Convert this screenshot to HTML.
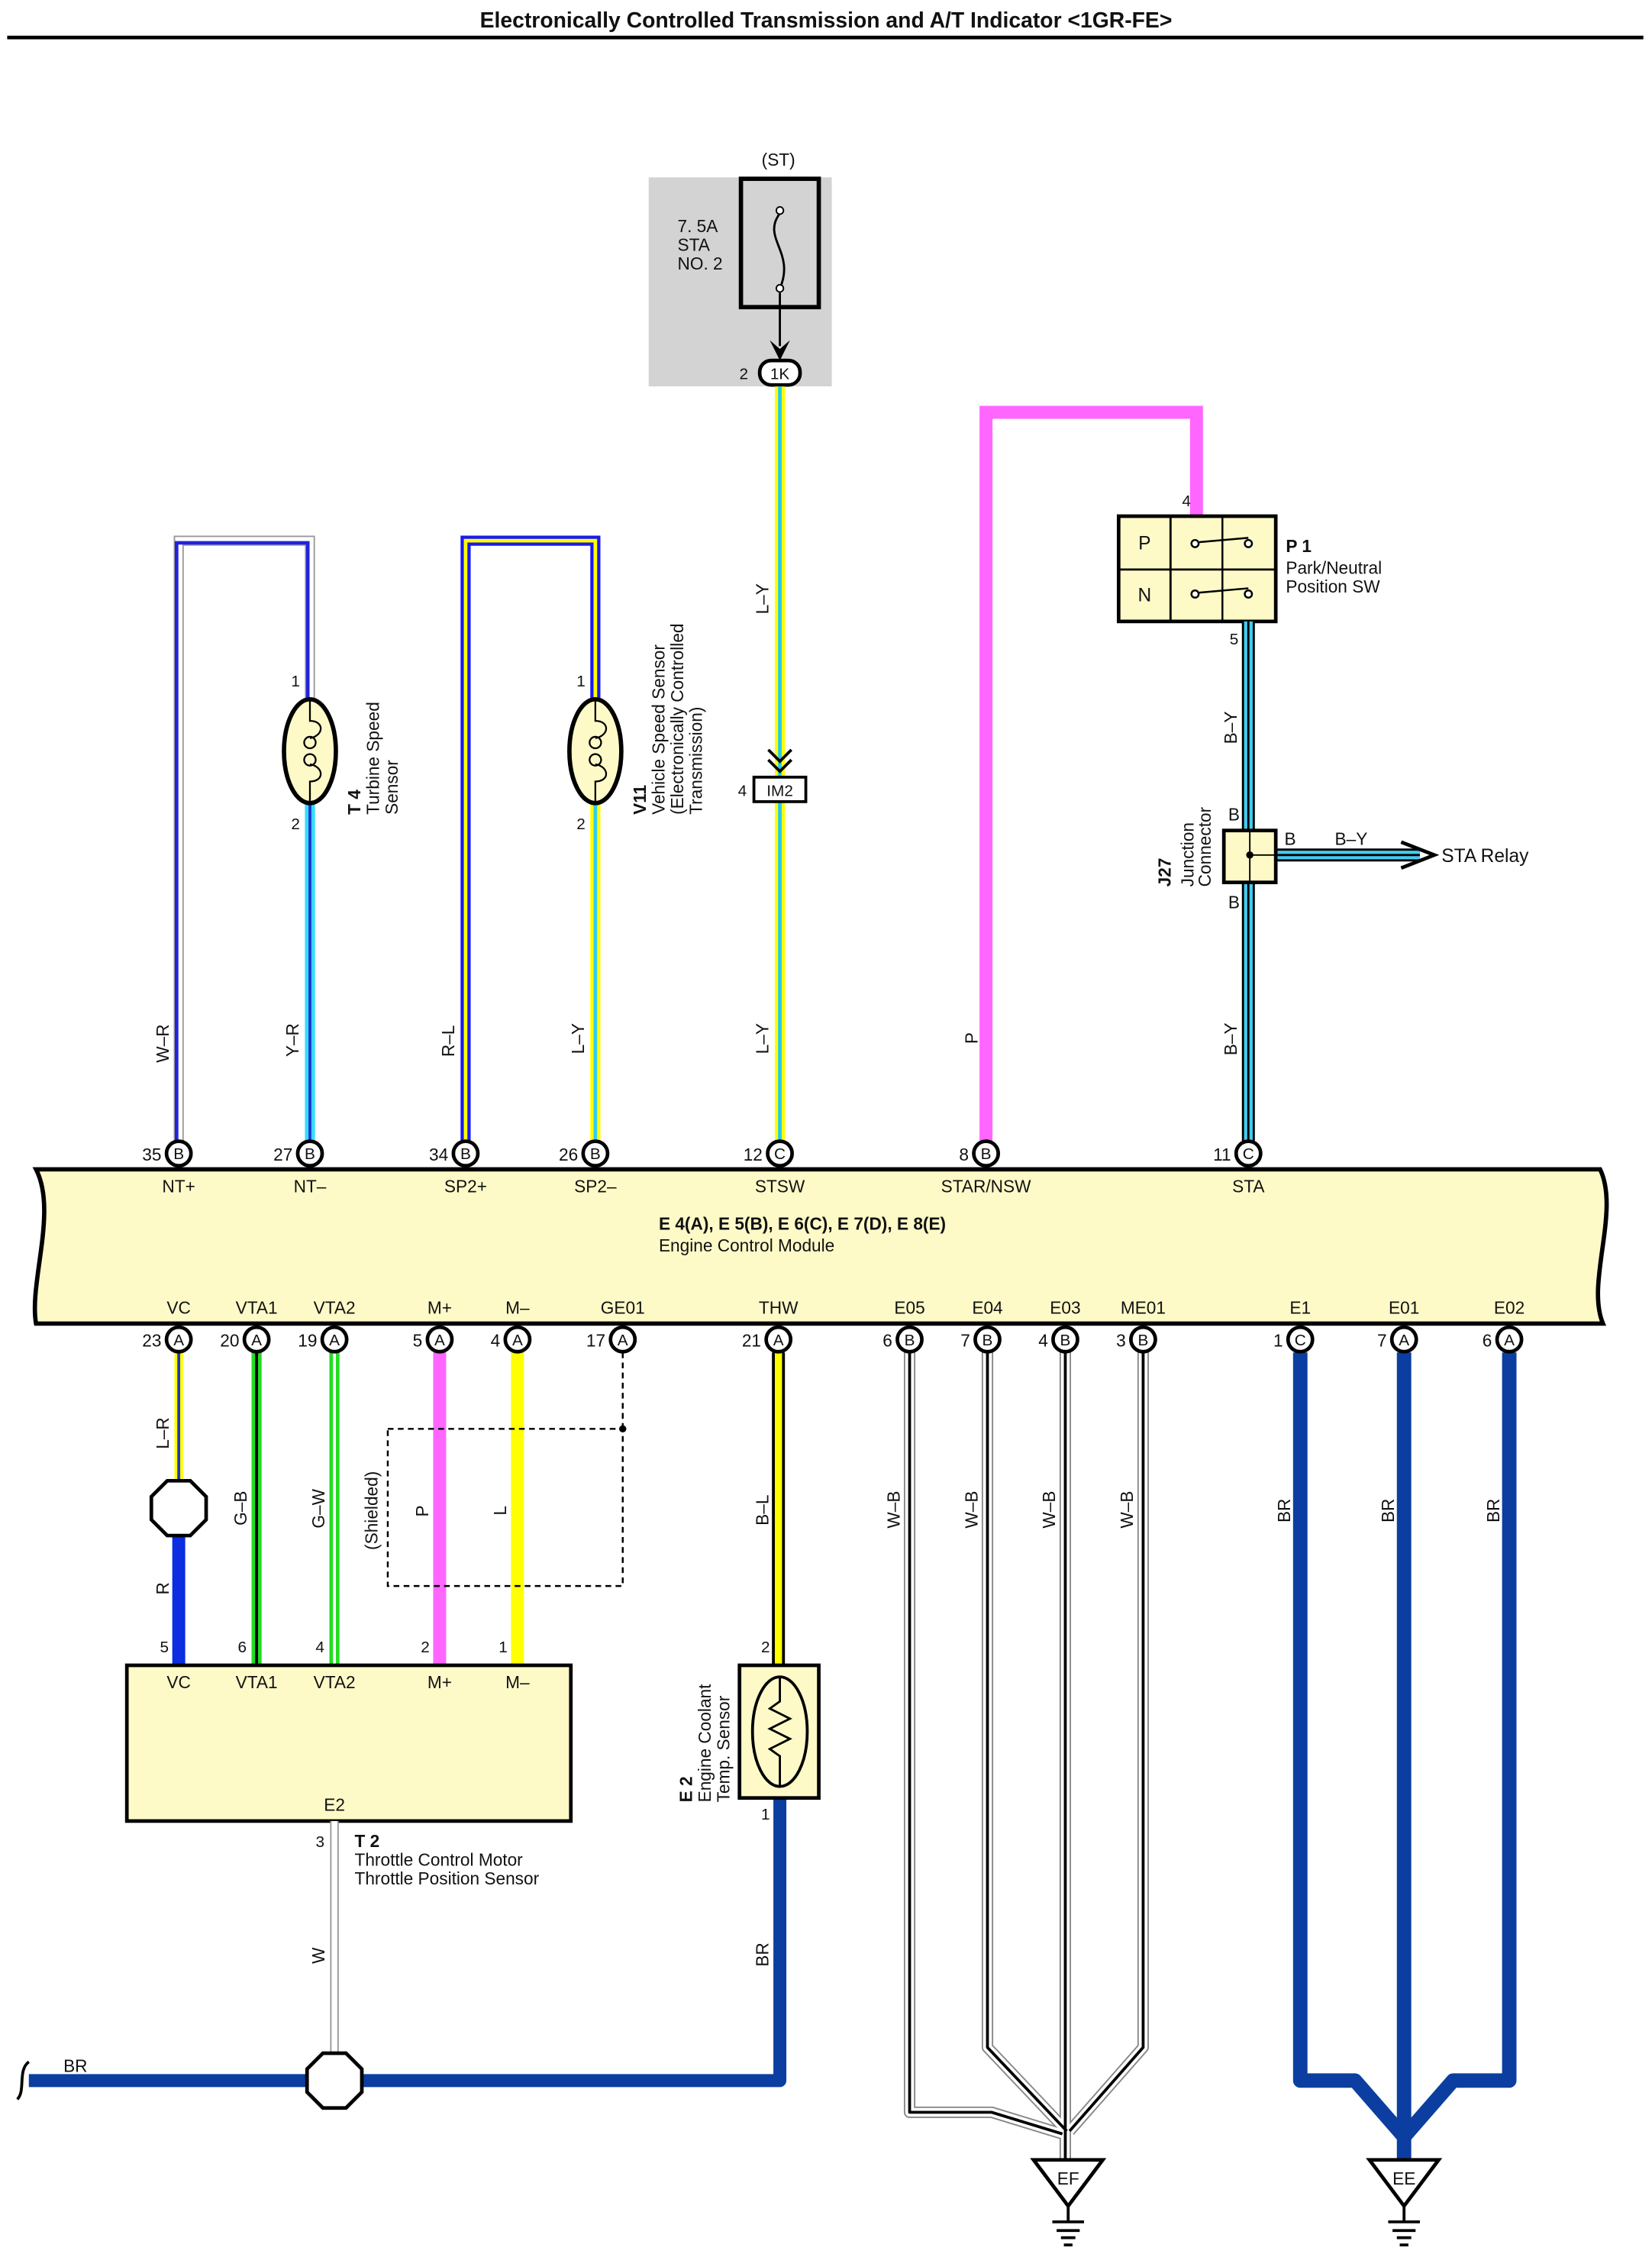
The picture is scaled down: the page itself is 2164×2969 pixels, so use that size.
<!DOCTYPE html>
<html><head><meta charset="utf-8"><style>html,body{margin:0;padding:0;background:#fff}svg{display:block}text{font-family:"Liberation Sans",sans-serif;fill:#111}</style></head><body>
<svg width="2164" height="2969" viewBox="0 0 1146 1572.3" preserveAspectRatio="none" xmlns="http://www.w3.org/2000/svg">
<text x="573" y="19" font-size="15" font-weight="bold" text-anchor="middle">Electronically Controlled Transmission and A/T Indicator &lt;1GR-FE&gt;</text>
<line x1="5" y1="26" x2="1140" y2="26" stroke="#000" stroke-width="2.5"/>

<!-- Fuse -->
<rect x="450" y="123" width="127" height="145" fill="#d3d3d3"/>
<text x="540" y="115" font-size="12" text-anchor="middle">(ST)</text>
<rect x="514" y="124" width="54" height="89" fill="none" stroke="#000" stroke-width="3"/>
<path d="M541 148 C528 165,552 175,541 200" fill="none" stroke="#000" stroke-width="1.5"/>
<circle cx="541" cy="146" r="2.5" fill="#fff" stroke="#000"/><circle cx="541" cy="200" r="2.5" fill="#fff" stroke="#000"/>
<text x="470" y="161" font-size="12">7. 5A</text><text x="470" y="174" font-size="12">STA</text><text x="470" y="187" font-size="12">NO. 2</text>
<line x1="541" y1="203" x2="541" y2="240" stroke="#000" stroke-width="1.5"/>
<path d="M534 236 L541 250 L548 236 L541 242 Z" fill="#000"/>
<rect x="527" y="250" width="28" height="17" rx="8" fill="#fff" stroke="#000" stroke-width="2.5"/>
<text x="541" y="263" font-size="11" text-anchor="middle">1K</text><text x="519" y="263" font-size="11" text-anchor="end">2</text>

<!-- STSW wire -->
<line x1="541" y1="268" x2="541" y2="792" stroke="#ffff00" stroke-width="7"/>
<line x1="541" y1="268" x2="541" y2="792" stroke="#22ccee" stroke-width="2.5"/>
<path d="M533 520 L541 528 L549 520 M533 527 L541 535 L549 527" fill="none" stroke="#000" stroke-width="2"/>
<rect x="523" y="539" width="36" height="17" fill="#fff" stroke="#000" stroke-width="2"/>
<text x="541" y="552" font-size="11" text-anchor="middle">IM2</text><text x="518" y="552" font-size="11" text-anchor="end">4</text>

<!-- P wire -->
<path d="M684 792 L684 286 L830 286 L830 358" fill="none" stroke="#ff66ff" stroke-width="9"/>
<text x="820" y="351" font-size="11">4</text>
<rect x="776" y="358" width="109" height="73" fill="#fdfac8" stroke="#000" stroke-width="2.5"/>
<line x1="812" y1="358" x2="812" y2="431" stroke="#000" stroke-width="1.5"/>
<line x1="776" y1="395" x2="885" y2="395" stroke="#000" stroke-width="1.5"/>
<text x="794" y="381" font-size="13" text-anchor="middle">P</text><text x="794" y="417" font-size="13" text-anchor="middle">N</text>
<g fill="#fff" stroke="#000" stroke-width="1.3"><circle cx="829" cy="377" r="2.5"/><circle cx="866" cy="377" r="2.5"/><circle cx="829" cy="412" r="2.5"/><circle cx="866" cy="412" r="2.5"/></g>
<path d="M832 376 L866 373 M832 411 L866 408 M848 358 L848 431" stroke="#000" stroke-width="1.3" fill="none"/>
<text x="892" y="383" font-size="12" font-weight="bold">P 1</text>
<text x="892" y="398" font-size="12">Park/Neutral</text><text x="892" y="411" font-size="12">Position SW</text>
<text x="853" y="447" font-size="11">5</text>

<!-- B-Y -->
<g fill="none">
<line x1="866" y1="431" x2="866" y2="792" stroke="#000" stroke-width="9"/>
<line x1="866" y1="431" x2="866" y2="792" stroke="#44ccf0" stroke-width="6"/>
<line x1="866" y1="431" x2="866" y2="792" stroke="#000" stroke-width="1.5"/>
<line x1="885" y1="593" x2="985" y2="593" stroke="#000" stroke-width="9"/>
<line x1="885" y1="593" x2="985" y2="593" stroke="#44ccf0" stroke-width="6"/>
<line x1="885" y1="593" x2="985" y2="593" stroke="#000" stroke-width="1.5"/>
</g>
<path d="M972 584 L995 593 L972 602" fill="none" stroke="#000" stroke-width="2.5"/>
<rect x="849" y="576" width="36" height="36" fill="#fdfac8" stroke="#000" stroke-width="2.5"/>
<line x1="867" y1="576" x2="867" y2="612" stroke="#000"/><line x1="867" y1="593" x2="885" y2="593" stroke="#000"/><circle cx="867" cy="593" r="2.5" fill="#000"/>
<text x="852" y="569" font-size="12">B</text><text x="891" y="586" font-size="12">B</text><text x="852" y="630" font-size="12">B</text>
<text x="926" y="586" font-size="12">B–Y</text><text x="1000" y="598" font-size="13">STA Relay</text>
<text transform="translate(812,615) rotate(-90)" font-size="12" font-weight="bold">J27</text>
<text transform="translate(828,615) rotate(-90)" font-size="12">Junction</text>
<text transform="translate(840,615) rotate(-90)" font-size="12">Connector</text>

<!-- NT wires -->
<path d="M124 792 L124 375 L215 375 L215 487" fill="none" stroke="#999" stroke-width="7"/>
<path d="M124 792 L124 375 L215 375 L215 487" fill="none" stroke="#fff" stroke-width="5"/>
<path d="M124 792 L124 375 L215 375 L215 487" fill="none" stroke="#2222dd" stroke-width="2.5" transform="translate(-1.5,1.5)"/>
<line x1="215" y1="556" x2="215" y2="792" stroke="#33ddff" stroke-width="7"/>
<line x1="215" y1="556" x2="215" y2="792" stroke="#2233cc" stroke-width="2"/>
<ellipse cx="215" cy="521" rx="18" ry="36" fill="#fdfac8" stroke="#000" stroke-width="3"/>
<path d="M215 485 L215 500 C225 500,225 510,215 512 M211 515 a4 4 0 1 1 8 0 a4 4 0 1 1 -8 0 M211 527 a4 4 0 1 1 8 0 a4 4 0 1 1 -8 0 M215 530 C225 532,225 542,215 542 L215 557" fill="none" stroke="#000" stroke-width="1.2"/>
<text x="202" y="476" font-size="11">1</text><text x="202" y="575" font-size="11">2</text>
<text transform="translate(250,565) rotate(-90)" font-size="12" font-weight="bold">T 4</text>
<text transform="translate(263,565) rotate(-90)" font-size="12">Turbine Speed</text>
<text transform="translate(276,565) rotate(-90)" font-size="12">Sensor</text>

<!-- SP wires -->
<path d="M323 792 L323 375 L413 375 L413 487" fill="none" stroke="#1a1aee" stroke-width="7"/>
<path d="M323 792 L323 375 L413 375 L413 487" fill="none" stroke="#ffff00" stroke-width="2.5"/>
<line x1="413" y1="556" x2="413" y2="792" stroke="#ffff00" stroke-width="7"/>
<line x1="413" y1="556" x2="413" y2="792" stroke="#33ccee" stroke-width="2.5"/>
<ellipse cx="413" cy="521" rx="18" ry="36" fill="#fdfac8" stroke="#000" stroke-width="3"/>
<path d="M413 485 L413 500 C423 500,423 510,413 512 M409 515 a4 4 0 1 1 8 0 a4 4 0 1 1 -8 0 M409 527 a4 4 0 1 1 8 0 a4 4 0 1 1 -8 0 M413 530 C423 532,423 542,413 542 L413 557" fill="none" stroke="#000" stroke-width="1.2"/>
<text x="400" y="476" font-size="11">1</text><text x="400" y="575" font-size="11">2</text>
<text transform="translate(448,565) rotate(-90)" font-size="12" font-weight="bold">V11</text>
<text transform="translate(461,565) rotate(-90)" font-size="12">Vehicle Speed Sensor</text>
<text transform="translate(474,565) rotate(-90)" font-size="12">(Electronically Controlled</text>
<text transform="translate(487,565) rotate(-90)" font-size="12">Transmission)</text>

<!-- wire labels top -->
<g font-size="12">
<text transform="translate(117,737) rotate(-90)">W–R</text>
<text transform="translate(207,733) rotate(-90)">Y–R</text>
<text transform="translate(315,733) rotate(-90)">R–L</text>
<text transform="translate(405,731) rotate(-90)">L–Y</text>
<text transform="translate(533,731) rotate(-90)">L–Y</text>
<text transform="translate(533,426) rotate(-90)">L–Y</text>
<text transform="translate(678,724) rotate(-90)">P</text>
<text transform="translate(858,732) rotate(-90)">B–Y</text>
<text transform="translate(858,516) rotate(-90)">B–Y</text>
</g>

<!-- ECM -->
<path d="M25 811 L1110 811 C1124 840,1100 890,1112 918 L25 918 C20 890,40 840,25 811 Z" fill="#fdfac8" stroke="#000" stroke-width="3"/>
<text x="457" y="853" font-size="12" font-weight="bold">E 4(A), E 5(B), E 6(C), E 7(D), E 8(E)</text>
<text x="457" y="868" font-size="12">Engine Control Module</text>
<g font-size="12" text-anchor="middle">
<text x="124" y="827">NT+</text><text x="215" y="827">NT–</text><text x="323" y="827">SP2+</text><text x="413" y="827">SP2–</text><text x="541" y="827">STSW</text><text x="684" y="827">STAR/NSW</text><text x="866" y="827">STA</text>
<text x="124" y="911">VC</text><text x="178" y="911">VTA1</text><text x="232" y="911">VTA2</text><text x="305" y="911">M+</text><text x="359" y="911">M–</text><text x="432" y="911">GE01</text><text x="540" y="911">THW</text><text x="631" y="911">E05</text><text x="685" y="911">E04</text><text x="739" y="911">E03</text><text x="793" y="911">ME01</text><text x="902" y="911">E1</text><text x="974" y="911">E01</text><text x="1047" y="911">E02</text>
</g>

<!-- bottom wires -->
<line x1="124" y1="938" x2="124" y2="1028" stroke="#ffff00" stroke-width="6"/><line x1="124" y1="938" x2="124" y2="1028" stroke="#2233cc" stroke-width="2"/>
<line x1="124" y1="1064" x2="124" y2="1155" stroke="#0a2ee0" stroke-width="9"/>
<polygon points="116,1027 132,1027 143,1038 143,1054 132,1065 116,1065 105,1054 105,1038" fill="#fff" stroke="#000" stroke-width="2.5"/>
<line x1="178" y1="938" x2="178" y2="1155" stroke="#22dd22" stroke-width="7"/><line x1="178" y1="938" x2="178" y2="1155" stroke="#000" stroke-width="2"/>
<line x1="232" y1="938" x2="232" y2="1155" stroke="#22dd22" stroke-width="7"/><line x1="232" y1="938" x2="232" y2="1155" stroke="#fff" stroke-width="2"/>
<line x1="305" y1="938" x2="305" y2="1155" stroke="#ff66ff" stroke-width="9"/>
<line x1="359" y1="938" x2="359" y2="1155" stroke="#ffff00" stroke-width="9"/>
<path d="M432 938 L432 991" stroke="#000" stroke-width="1.3" stroke-dasharray="4,3"/>
<rect x="269" y="991" width="163" height="109" fill="none" stroke="#000" stroke-width="1.3" stroke-dasharray="4,3"/>
<circle cx="432" cy="991" r="2.5" fill="#000"/>
<line x1="540" y1="938" x2="540" y2="1155" stroke="#000" stroke-width="9"/><line x1="540" y1="938" x2="540" y2="1155" stroke="#ffff00" stroke-width="5"/>

<!-- W-B wires -->
<g fill="none" stroke-linejoin="round">
<g stroke="#888" stroke-width="8">
<path d="M631 938 L631 1465 L688 1465 L737 1480"/><path d="M685 938 L685 1420 L740 1478"/><path d="M739 938 L739 1500"/><path d="M793 938 L793 1420 L742 1478"/>
</g>
<g stroke="#fff" stroke-width="6">
<path d="M631 938 L631 1465 L688 1465 L737 1480"/><path d="M685 938 L685 1420 L740 1478"/><path d="M739 938 L739 1500"/><path d="M793 938 L793 1420 L742 1478"/>
</g>
<g stroke="#000" stroke-width="2">
<path d="M631 938 L631 1465 L688 1465 L737 1480"/><path d="M685 938 L685 1420 L740 1478"/><path d="M739 938 L739 1500"/><path d="M793 938 L793 1420 L742 1478"/>
</g>
</g>
<!-- BR E wires -->
<g fill="none" stroke="#0b3ea0" stroke-width="10" stroke-linejoin="round">
<path d="M902 938 L902 1443 L940 1443 L974 1482"/><path d="M974 938 L974 1498"/><path d="M1047 938 L1047 1443 L1008 1443 L974 1482"/>
</g>

<!-- pins -->
<g font-size="11" text-anchor="middle">
<g fill="#fff" stroke="#000" stroke-width="2.5">
<circle cx="124" cy="800" r="8.5"/><circle cx="215" cy="800" r="8.5"/><circle cx="323" cy="800" r="8.5"/><circle cx="413" cy="800" r="8.5"/><circle cx="541" cy="800" r="8.5"/><circle cx="684" cy="800" r="8.5"/><circle cx="866" cy="800" r="8.5"/>
<circle cx="124" cy="929" r="8.5"/><circle cx="178" cy="929" r="8.5"/><circle cx="232" cy="929" r="8.5"/><circle cx="305" cy="929" r="8.5"/><circle cx="359" cy="929" r="8.5"/><circle cx="432" cy="929" r="8.5"/><circle cx="540" cy="929" r="8.5"/><circle cx="631" cy="929" r="8.5"/><circle cx="685" cy="929" r="8.5"/><circle cx="739" cy="929" r="8.5"/><circle cx="793" cy="929" r="8.5"/><circle cx="902" cy="929" r="8.5"/><circle cx="974" cy="929" r="8.5"/><circle cx="1047" cy="929" r="8.5"/>
</g>
<text x="124" y="804">B</text><text x="215" y="804">B</text><text x="323" y="804">B</text><text x="413" y="804">B</text><text x="541" y="804">C</text><text x="684" y="804">B</text><text x="866" y="804">C</text>
<text x="124" y="933">A</text><text x="178" y="933">A</text><text x="232" y="933">A</text><text x="305" y="933">A</text><text x="359" y="933">A</text><text x="432" y="933">A</text><text x="540" y="933">A</text><text x="631" y="933">B</text><text x="685" y="933">B</text><text x="739" y="933">B</text><text x="793" y="933">B</text><text x="902" y="933">C</text><text x="974" y="933">A</text><text x="1047" y="933">A</text>
</g>
<g font-size="12" text-anchor="end">
<text x="112" y="805">35</text><text x="203" y="805">27</text><text x="311" y="805">34</text><text x="401" y="805">26</text><text x="529" y="805">12</text><text x="672" y="805">8</text><text x="854" y="805">11</text>
<text x="112" y="934">23</text><text x="166" y="934">20</text><text x="220" y="934">19</text><text x="293" y="934">5</text><text x="347" y="934">4</text><text x="420" y="934">17</text><text x="528" y="934">21</text><text x="619" y="934">6</text><text x="673" y="934">7</text><text x="727" y="934">4</text><text x="781" y="934">3</text><text x="890" y="934">1</text><text x="962" y="934">7</text><text x="1035" y="934">6</text>
</g>

<!-- bottom wire labels -->
<g font-size="12">
<text transform="translate(117,1005) rotate(-90)">L–R</text>
<text transform="translate(117,1106) rotate(-90)">R</text>
<text transform="translate(171,1058) rotate(-90)">G–B</text>
<text transform="translate(225,1060) rotate(-90)">G–W</text>
<text transform="translate(262,1075) rotate(-90)">(Shielded)</text>
<text transform="translate(297,1052) rotate(-90)">P</text>
<text transform="translate(351,1051) rotate(-90)">L</text>
<text transform="translate(533,1058) rotate(-90)">B–L</text>
<text transform="translate(624,1060) rotate(-90)">W–B</text><text transform="translate(678,1060) rotate(-90)">W–B</text><text transform="translate(732,1060) rotate(-90)">W–B</text><text transform="translate(786,1060) rotate(-90)">W–B</text>
<text transform="translate(895,1056) rotate(-90)">BR</text><text transform="translate(967,1056) rotate(-90)">BR</text><text transform="translate(1040,1056) rotate(-90)">BR</text>
<text transform="translate(225,1362) rotate(-90)">W</text>
<text transform="translate(533,1364) rotate(-90)">BR</text>
<text x="44" y="1437">BR</text>
</g>

<!-- T2 -->
<g font-size="11" text-anchor="middle"><text x="114" y="1146">5</text><text x="168" y="1146">6</text><text x="222" y="1146">4</text><text x="295" y="1146">2</text><text x="349" y="1146">1</text></g>
<rect x="88" y="1155" width="308" height="108" fill="#fdfac8" stroke="#000" stroke-width="2.5"/>
<g font-size="12" text-anchor="middle"><text x="124" y="1171">VC</text><text x="178" y="1171">VTA1</text><text x="232" y="1171">VTA2</text><text x="305" y="1171">M+</text><text x="359" y="1171">M–</text><text x="232" y="1256">E2</text></g>
<text x="219" y="1281" font-size="11">3</text>
<text x="246" y="1281" font-size="12" font-weight="bold">T 2</text>
<text x="246" y="1294" font-size="12">Throttle Control Motor</text>
<text x="246" y="1307" font-size="12">Throttle Position Sensor</text>
<line x1="232" y1="1263" x2="232" y2="1425" stroke="#999" stroke-width="6"/><line x1="232" y1="1263" x2="232" y2="1425" stroke="#fff" stroke-width="4"/>

<!-- BR bottom -->
<path d="M20 1443 L541 1443 L541 1247" fill="none" stroke="#0b3ea0" stroke-width="9" stroke-linejoin="round"/>
<path d="M20 1430 C12 1436,18 1450,12 1456" fill="none" stroke="#000" stroke-width="2"/>
<polygon points="224,1424 240,1424 251,1435 251,1451 240,1462 224,1462 213,1451 213,1435" fill="#fff" stroke="#000" stroke-width="2.5"/>

<!-- E2 sensor -->
<text x="528" y="1146" font-size="11">2</text>
<rect x="513" y="1155" width="55" height="92" fill="#fdfac8" stroke="#000" stroke-width="2.5"/>
<ellipse cx="541" cy="1201" rx="19" ry="38" fill="#fdfac8" stroke="#000" stroke-width="2"/>
<path d="M541 1164 L541 1180 L534 1185 L548 1192 L534 1199 L548 1206 L534 1213 L541 1218 L541 1239" fill="none" stroke="#000" stroke-width="1.5"/>
<text x="528" y="1262" font-size="11">1</text>
<text transform="translate(480,1250) rotate(-90)" font-size="12" font-weight="bold">E 2</text>
<text transform="translate(493,1250) rotate(-90)" font-size="12">Engine Coolant</text>
<text transform="translate(506,1250) rotate(-90)" font-size="12">Temp. Sensor</text>

<!-- grounds -->
<g stroke="#000" fill="#fff" stroke-width="2.5">
<polygon points="717,1498 765,1498 741,1530"/><polygon points="950,1498 998,1498 974,1530"/>
</g>
<text x="741" y="1515" font-size="12" text-anchor="middle">EF</text><text x="974" y="1515" font-size="12" text-anchor="middle">EE</text>
<g stroke="#000" stroke-width="2">
<path d="M741 1530 L741 1541 M730 1541 L752 1541 M733 1547 L749 1547 M736 1552 L746 1552 M738 1557 L744 1557"/>
<path d="M974 1530 L974 1541 M963 1541 L985 1541 M966 1547 L982 1547 M969 1552 L979 1552 M971 1557 L977 1557"/>
</g>
</svg>
</body></html>
